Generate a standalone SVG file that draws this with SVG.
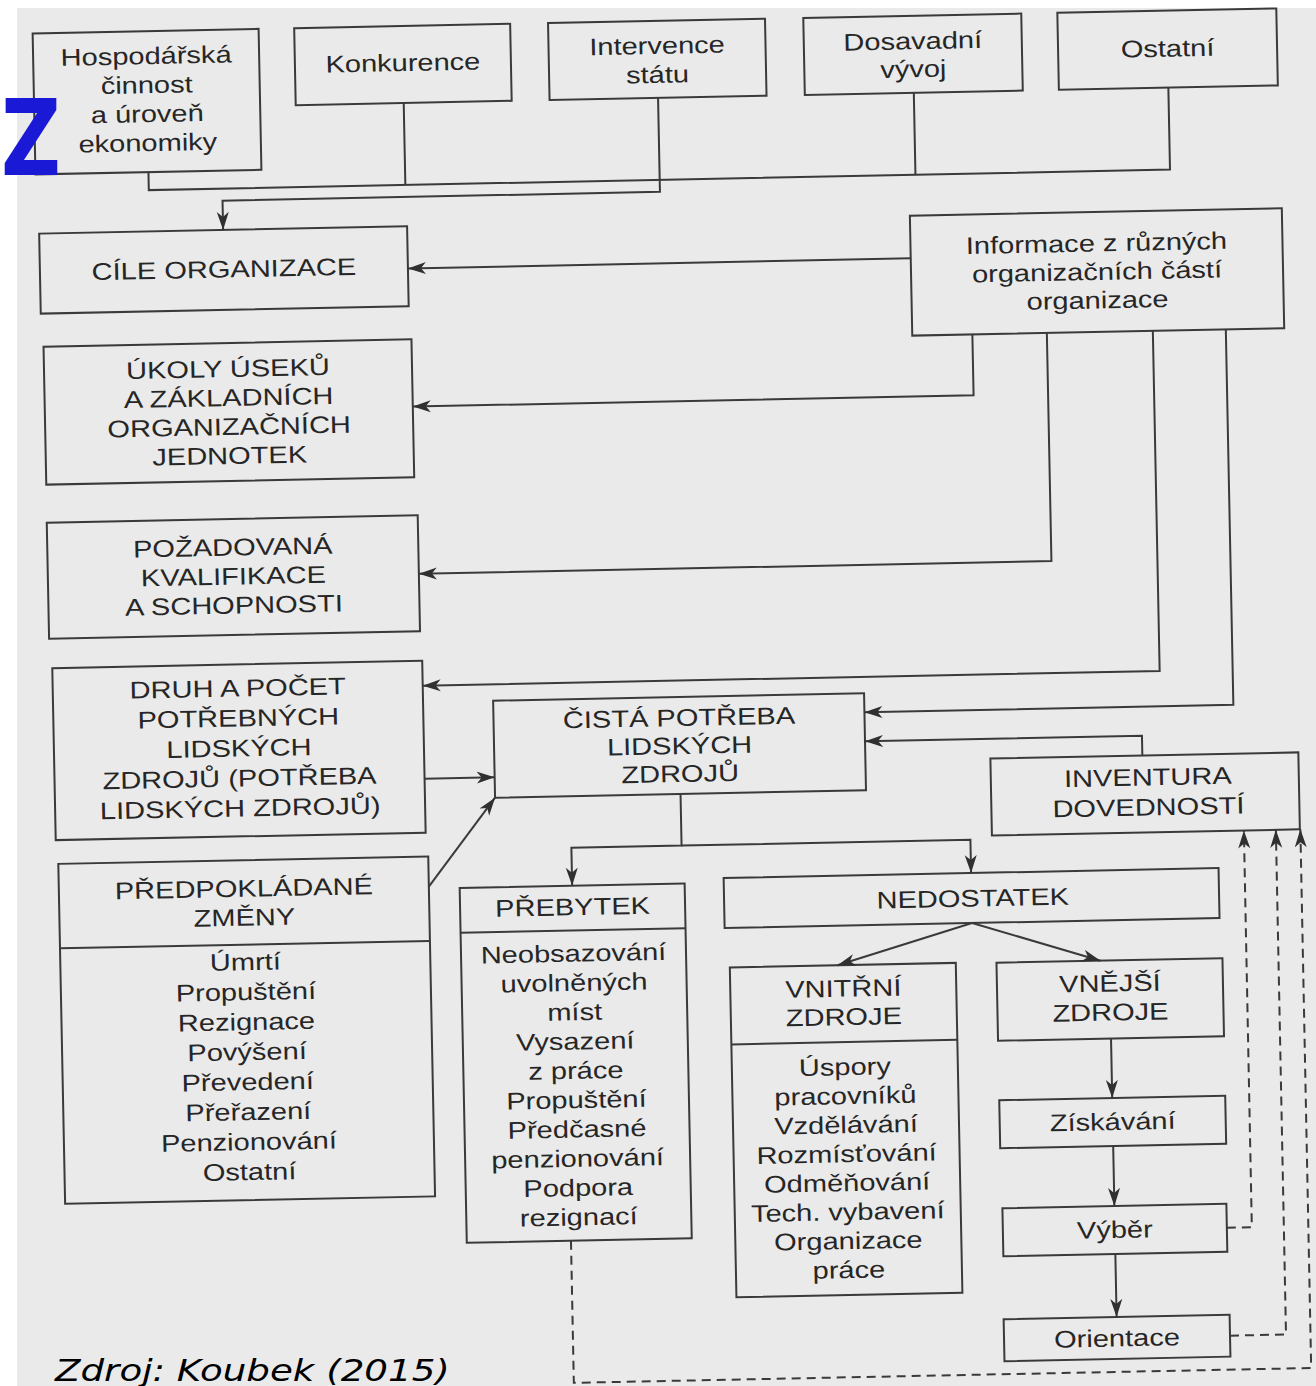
<svg xmlns="http://www.w3.org/2000/svg" width="1316" height="1386" viewBox="0 0 1316 1386">
<style>
.box{fill:none;stroke:#3a3a3a;stroke-width:2}
.t{font-family:"Liberation Sans",Arial,sans-serif;font-size:24px;fill:#262626;text-anchor:middle}
.c{fill:none;stroke:#3a3a3a;stroke-width:2}
.d{stroke-dasharray:9 6}
</style>
<defs>
<marker id="ah" markerWidth="19" markerHeight="13" refX="18" refY="6.5" orient="auto" markerUnits="userSpaceOnUse">
<path d="M0,0.5 L18,6.5 L0,12.5 L5,6.5 z" fill="#303030"/>
</marker>
</defs>
<rect width="1316" height="1386" fill="#ffffff"/>
<rect x="17" y="8" width="1299" height="1378" fill="#eaeaea"/>
<g id="diagram" transform="rotate(-1.15 658 693)">
<g id="n-hosp" transform="translate(159 91.5)">
<rect class="box" x="-113" y="-70.5" width="226" height="141"/>
<g transform="scale(1.21 1)"><text class="t" x="0" y="-37.5">Hospodářská</text><text class="t" x="0" y="-8.5">činnost</text><text class="t" x="0" y="20.5">a úroveň</text><text class="t" x="0" y="49.5">ekonomiky</text></g>
</g>
<g id="n-konk" transform="translate(415.6 59.5)">
<rect class="box" x="-108" y="-38.5" width="216" height="77"/>
<g transform="scale(1.21 1)"><text class="t" x="0" y="6.5">Konkurence</text></g>
</g>
<g id="n-interv" transform="translate(670 59.5)">
<rect class="box" x="-108.5" y="-38.5" width="217" height="77"/>
<g transform="scale(1.21 1)"><text class="t" x="0" y="-5.5">Intervence</text><text class="t" x="0" y="23.5">státu</text></g>
</g>
<g id="n-dosav" transform="translate(925.8 59.5)">
<rect class="box" x="-109" y="-38.5" width="218" height="77"/>
<g transform="scale(1.21 1)"><text class="t" x="0" y="-5">Dosavadní</text><text class="t" x="0" y="23">vývoj</text></g>
</g>
<g id="n-ostat" transform="translate(1180.4 59.5)">
<rect class="box" x="-109.5" y="-38.5" width="219" height="77"/>
<g transform="scale(1.21 1)"><text class="t" x="0" y="7.5">Ostatní</text></g>
</g>
<g id="n-cile" transform="translate(232.5 261.3)">
<rect class="box" x="-184" y="-40" width="368" height="80"/>
<g transform="scale(1.21 1)"><text class="t" x="0" y="7.5">CÍLE ORGANIZACE</text></g>
</g>
<g id="n-info" transform="translate(1105.4 280.8)">
<rect class="box" x="-186" y="-60" width="372" height="120"/>
<g transform="scale(1.21 1)"><text class="t" x="0" y="-20.5">Informace z různých</text><text class="t" x="0" y="8">organizačních částí</text><text class="t" x="0" y="36.5">organizace</text></g>
</g>
<g id="n-ukoly" transform="translate(234.6 403.4)">
<rect class="box" x="-184" y="-69" width="368" height="138"/>
<g transform="scale(1.21 1)"><text class="t" x="0" y="-35">ÚKOLY ÚSEKŮ</text><text class="t" x="0" y="-6">A ZÁKLADNÍCH</text><text class="t" x="0" y="23">ORGANIZAČNÍCH</text><text class="t" x="0" y="52">JEDNOTEK</text></g>
</g>
<g id="n-poz" transform="translate(235.8 568.5)">
<rect class="box" x="-185.5" y="-58" width="371" height="116"/>
<g transform="scale(1.21 1)"><text class="t" x="0" y="-21.5">POŽADOVANÁ</text><text class="t" x="0" y="7.5">KVALIFIKACE</text><text class="t" x="0" y="36.5">A SCHOPNOSTI</text></g>
</g>
<g id="n-druh" transform="translate(237.9 742)">
<rect class="box" x="-185" y="-86" width="370" height="172"/>
<g transform="scale(1.21 1)"><text class="t" x="0" y="-54">DRUH A POČET</text><text class="t" x="0" y="-24">POTŘEBNÝCH</text><text class="t" x="0" y="6">LIDSKÝCH</text><text class="t" x="0" y="36">ZDROJŮ (POTŘEBA</text><text class="t" x="0" y="66">LIDSKÝCH ZDROJŮ)</text></g>
</g>
<g id="n-predp" transform="translate(240 1021.8)">
<rect class="box" x="-185" y="-170" width="370" height="340"/>
<line class="c" x1="-185" y1="-85.5" x2="185" y2="-85.5"/>
<g transform="scale(1.21 1)"><text class="t" x="0" y="-133.5">PŘEDPOKLÁDANÉ</text><text class="t" x="0" y="-104.5">ZMĚNY</text>
<text class="t" x="0" y="-60">Úmrtí</text><text class="t" x="0" y="-30">Propuštění</text><text class="t" x="0" y="0">Rezignace</text><text class="t" x="0" y="30">Povýšení</text><text class="t" x="0" y="60">Převedení</text><text class="t" x="0" y="90">Přeřazení</text><text class="t" x="0" y="120">Penzionování</text><text class="t" x="0" y="150">Ostatní</text></g>
</g>
<g id="n-cista" transform="translate(678.5 745.9)">
<rect class="box" x="-185.5" y="-48.5" width="371" height="97"/>
<g transform="scale(1.21 1)"><text class="t" x="0" y="-19.5">ČISTÁ POTŘEBA</text><text class="t" x="0" y="8.5">LIDSKÝCH</text><text class="t" x="0" y="36.5">ZDROJŮ</text></g>
</g>
<g id="n-invent" transform="translate(1143 803.7)">
<rect class="box" x="-154" y="-38.5" width="308" height="77"/>
<g transform="scale(1.21 1)"><text class="t" x="2.5" y="-8.5">INVENTURA</text><text class="t" x="2.5" y="21.5">DOVEDNOSTÍ</text></g>
</g>
<g id="n-nedost" transform="translate(967.4 904.3)">
<rect class="box" x="-247.5" y="-25" width="495" height="50"/>
<g transform="scale(1.21 1)"><text class="t" x="1" y="8.5">NEDOSTATEK</text></g>
</g>
<g id="n-prebytek" transform="translate(568.3 1061.4)">
<rect class="box" x="-112.5" y="-177.5" width="225" height="355"/>
<line class="c" x1="-112.5" y1="-132.6" x2="112.5" y2="-132.6"/>
<g transform="scale(1.21 1)"><text class="t" x="0" y="-148">PŘEBYTEK</text>
<text class="t" x="0" y="-101.5">Neobsazování</text><text class="t" x="0" y="-72.2">uvolněných</text><text class="t" x="0" y="-42.9">míst</text><text class="t" x="0" y="-13.6">Vysazení</text><text class="t" x="0" y="15.7">z práce</text><text class="t" x="0" y="45">Propuštění</text><text class="t" x="0" y="74.3">Předčasné</text><text class="t" x="0" y="103.6">penzionování</text><text class="t" x="0" y="132.9">Podpora</text><text class="t" x="0" y="162.2">rezignací</text></g>
</g>
<g id="n-vnitrni" transform="translate(837.3 1133.8)">
<rect class="box" x="-113" y="-165" width="226" height="330"/>
<line class="c" x1="-113" y1="-88" x2="113" y2="-88"/>
<g transform="scale(1.21 1)"><text class="t" x="0" y="-133.5">VNITŘNÍ</text><text class="t" x="0" y="-105">ZDROJE</text>
<text class="t" x="0" y="-55">Úspory</text><text class="t" x="0" y="-26">pracovníků</text><text class="t" x="0" y="3">Vzdělávání</text><text class="t" x="0" y="32">Rozmísťování</text><text class="t" x="0" y="61">Odměňování</text><text class="t" x="0" y="90">Tech. vybavení</text><text class="t" x="0" y="119">Organizace</text><text class="t" x="0" y="148">práce</text></g>
</g>
<g id="n-vnejsi" transform="translate(1104 1008.5)">
<rect class="box" x="-113" y="-39" width="226" height="78"/>
<g transform="scale(1.21 1)"><text class="t" x="0" y="-8">VNĚJŠÍ</text><text class="t" x="0" y="21">ZDROJE</text></g>
</g>
<g id="n-ziskavani" transform="translate(1104 1131)">
<rect class="box" x="-113" y="-24" width="226" height="48"/>
<g transform="scale(1.21 1)"><text class="t" x="0" y="8">Získávání</text></g>
</g>
<g id="n-vyber" transform="translate(1104 1239)">
<rect class="box" x="-112" y="-24" width="224" height="48"/>
<g transform="scale(1.21 1)"><text class="t" x="0" y="8">Výběr</text></g>
</g>
<g id="n-orientace" transform="translate(1104 1347)">
<rect class="box" x="-113" y="-21" width="226" height="42"/>
<g transform="scale(1.21 1)"><text class="t" x="0" y="8.5">Orientace</text></g>
</g>
<g id="connectors">
<path class="c" d="M159,162 V180 H1180.4 V98"/>
<path class="c" d="M415.6,98 V180"/>
<path class="c" d="M925.8,98 V180"/>
<path class="c" d="M670,98 V192 H232.5 V221.3" marker-end="url(#ah)"/>
<path class="c" d="M919.4,263.5 H416.5" marker-end="url(#ah)"/>
<path class="c" d="M979.5,340.8 V401.7 H418.6" marker-end="url(#ah)"/>
<path class="c" d="M1054,340.8 V569 H421.3" marker-end="url(#ah)"/>
<path class="c" d="M1160,340.8 V681 H422.9" marker-end="url(#ah)"/>
<path class="c" d="M1233,340.8 V716.4 H864" marker-end="url(#ah)"/>
<path class="c" d="M1141,765.2 V745.5 H864" marker-end="url(#ah)"/>
<path class="c" d="M422.9,774 H493" marker-end="url(#ah)"/>
<path class="c" d="M425,882 L493,794.4" marker-end="url(#ah)"/>
<path class="c" d="M678.5,794.4 V846 H568.3 V883.9" marker-end="url(#ah)"/>
<path class="c" d="M678.5,846 H967.4 V879.3" marker-end="url(#ah)"/>
<path class="c" d="M967.4,929.3 L832,968.8" marker-end="url(#ah)"/>
<path class="c" d="M967.4,929.3 L1095,969.5" marker-end="url(#ah)"/>
<path class="c" d="M1104,1047.5 V1107" marker-end="url(#ah)"/>
<path class="c" d="M1104,1155 V1215" marker-end="url(#ah)"/>
<path class="c" d="M1104,1263 V1326" marker-end="url(#ah)"/>
<path class="c d" d="M1216,1239 H1241 V842.2" marker-end="url(#ah)"/>
<path class="c d" d="M1217,1347 H1273 V842.2" marker-end="url(#ah)"/>
<path class="c d" d="M560,1238.9 V1381 H1297.5 V842.2" marker-end="url(#ah)"/>
</g>
</g>
<text transform="translate(1 175) scale(0.78 1)" x="0" y="0" style="font-family:'DejaVu Sans',Verdana,sans-serif;font-weight:bold;font-size:106px;fill:#1a1ad6">Z</text>
<text transform="translate(55 1381) scale(1.22 1)" x="0" y="0" style="font-family:'DejaVu Sans',Verdana,sans-serif;font-style:italic;font-size:30.5px;fill:#000">Zdroj: Koubek (2015)</text>
</svg>
